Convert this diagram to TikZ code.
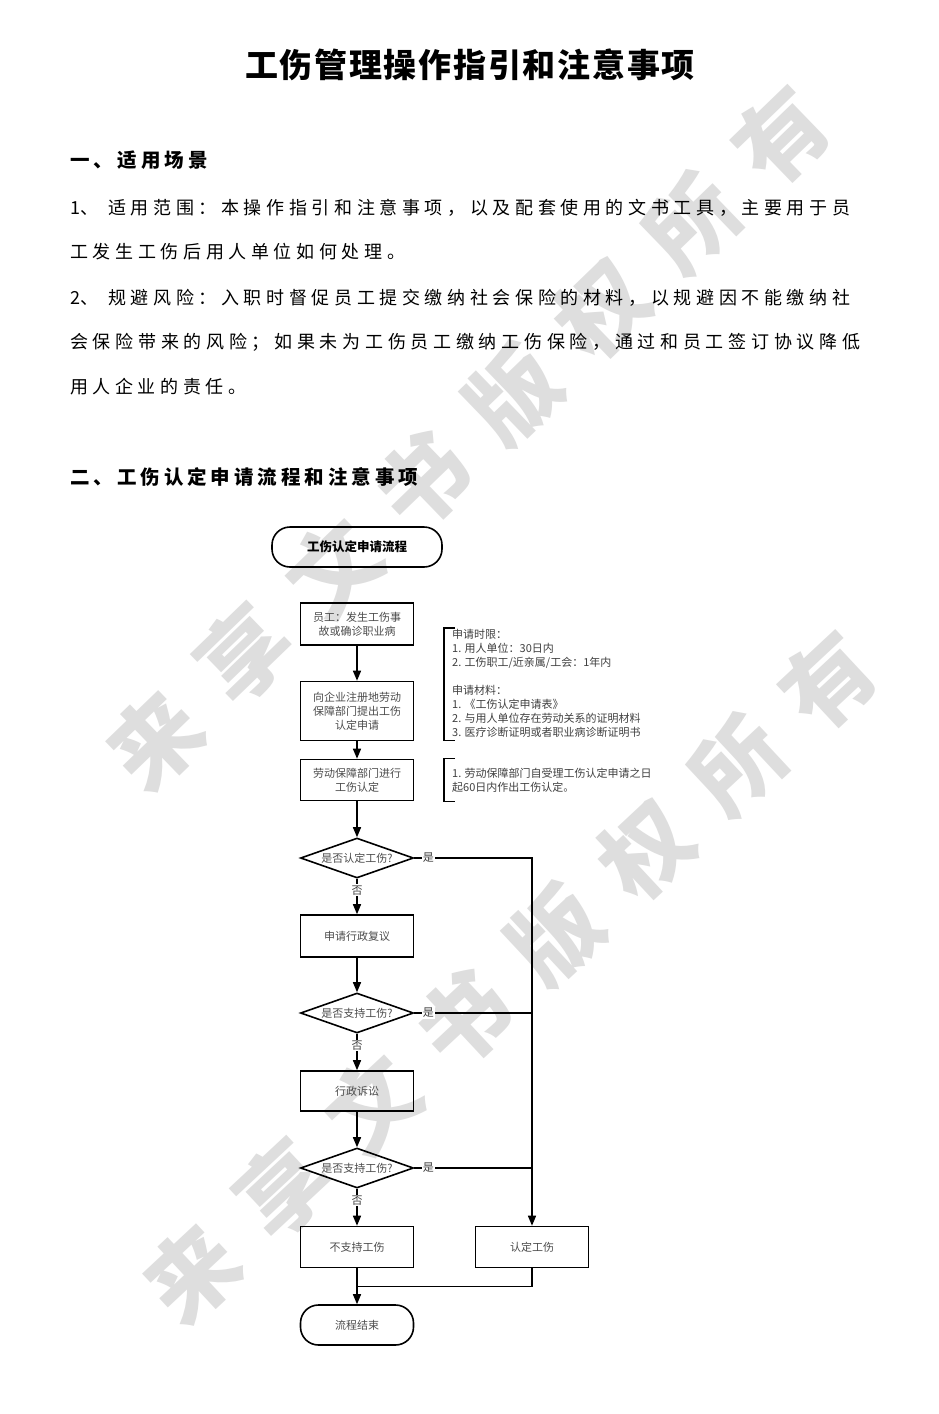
\documentclass[tikz,border=0pt]{standalone}
\usepackage{fontspec}
\setmainfont{Noto Sans CJK SC}
\usetikzlibrary{shapes.geometric, positioning, arrows.meta, calc}

% spread a line of CJK text evenly over a given width
\def\spreadfirst#1{#1\spreadrest}
\def\spreadrest#1{\ifx\relax#1\else\hskip 0pt plus 1fil #1\expandafter\spreadrest\fi}
\newcommand{\spreadline}[2]{\makebox[#1][s]{\spreadfirst#2\relax}}

\begin{document}
\begin{tikzpicture}[
        x=1pt, y=-1pt,
        >={Triangle[length=10pt,width=8pt]},
        procbox/.style={draw, line width=1.6pt, minimum width=113pt, minimum height=42pt, inner sep=2pt, align=center, text=black!70, font=\fontsize{11}{14}\selectfont},
        terminal/.style={procbox, rounded corners=18pt, minimum height=40pt},
        decision/.style={diamond, draw, line width=1.6pt, aspect=2.8, inner sep=0pt, minimum width=113pt, minimum height=40pt, text=black!70, font=\fontsize{11}{11}\selectfont},
        flow/.style={line width=1.5pt},
        lbl/.style={fill=white, inner sep=1pt, text=black!75, font=\fontsize{11}{11}\selectfont},
        note/.style={anchor=north west, inner sep=0pt, align=left, text=black!75, font=\fontsize{11}{14}\selectfont},
        bracket/.style={line width=1.5pt},
        bodyline/.style={anchor=west, inner sep=0pt, font=\fontsize{18}{22}\selectfont},
        heading/.style={anchor=west, inner sep=0pt, font=\fontsize{19.5}{22}\selectfont\bfseries},
        watermark/.style={text=black!13, inner sep=0pt, font=\fontsize{90}{90}\selectfont\bfseries}
    ]

    \fill[white] (0,0) rectangle (939,1414);
    \useasboundingbox (0,0) rectangle (939,1414);

    % --- Watermark ---
    \node[watermark, rotate=44] (wmtop) at (468,438) {\spreadline{960pt}{来享文书版权所有}};
    \node[watermark, rotate=43] (wmbottom) at (510,977) {\spreadline{960pt}{来享文书版权所有}};

    % --- Title and text ---
    \node[font=\fontsize{33}{33}\selectfont\bfseries] (title) at (470,65) {\spreadline{450pt}{工伤管理操作指引和注意事项}};

    \node[heading] (sec1) at (70,160) {\spreadline{138pt}{一、适用场景}};
    \node[bodyline] (scope1) at (70,208) {1、\hspace{10pt}\spreadline{742pt}{适用范围：本操作指引和注意事项，以及配套使用的文书工具，主要用于员}};
    \node[bodyline] (scope2) at (70,252) {\spreadline{335pt}{工发生工伤后用人单位如何处理。}};
    \node[bodyline] (risk1) at (70,298) {2、\hspace{10pt}\spreadline{742pt}{规避风险：入职时督促员工提交缴纳社会保险的材料，以规避因不能缴纳社}};
    \node[bodyline] (risk2) at (70,342) {\spreadline{790pt}{会保险带来的风险；如果未为工伤员工缴纳工伤保险，通过和员工签订协议降低}};
    \node[bodyline] (risk3) at (70,387) {\spreadline{176pt}{用人企业的责任。}};

    \node[heading] (sec2) at (70,477) {\spreadline{348pt}{二、工伤认定申请流程和注意事项}};

    % --- Flowchart ---
    \node[terminal, minimum width=170pt, text=black, font=\fontsize{12.5}{14}\selectfont\bfseries] (start) at (357,547) {工伤认定申请流程};
    \node[procbox] (accident) at (357,624) {员工：发生工伤事\\故或确诊职业病};
    \node[procbox, minimum height=59pt] (apply) at (357,711) {向企业注册地劳动\\保障部门提出工伤\\认定申请};
    \node[procbox, minimum height=41pt] (review) at (357,780) {劳动保障部门进行\\工伤认定};
    \node[decision] (isinjury) at (357,858) {是否认定工伤?};
    \node[procbox] (recon) at (357,936) {申请行政复议};
    \node[decision] (support1) at (357,1013) {是否支持工伤?};
    \node[procbox, minimum height=40pt] (lawsuit) at (357,1091) {行政诉讼};
    \node[decision] (support2) at (357,1168) {是否支持工伤?};
    \node[procbox, minimum height=41pt] (notinjury) at (357,1247) {不支持工伤};
    \node[procbox, minimum height=41pt] (injury) at (532,1247) {认定工伤};
    \node[terminal] (finish) at (357,1325) {流程结束};

    % --- Notes beside the flow ---
    \node[note] (limits) at (452,629) {申请时限：\\1. 用人单位：30日内\\2. 工伤职工/近亲属/工会：1年内\\[14pt]申请材料：\\1. 《工伤认定申请表》\\2. 与用人单位存在劳动关系的证明材料\\3. 医疗诊断证明或者职业病诊断证明书};
    \node[note, anchor=west] (deadline) at (452,780) {1. 劳动保障部门自受理工伤认定申请之日\\起60日内作出工伤认定。};

    \draw[bracket] ([xshift=3pt, yshift=1pt]limits.north west) -- ++(-11,0) |- ([xshift=3pt, yshift=-3pt]limits.south west);
    \coordinate (dtop) at (deadline.west |- review.north);
    \coordinate (dbottom) at (deadline.west |- review.south);
    \draw[bracket] ([xshift=3pt]dtop) -- ++(-11,0) |- ([xshift=3pt]dbottom);

    % --- Connectors ---
    \draw[flow,->] (accident) -- (apply);
    \draw[flow,->] (apply) -- (review);
    \draw[flow,->] (review) -- (isinjury);
    \draw[flow,->] (isinjury) -- node[lbl, pos=0.32] {否} (recon);
    \draw[flow,->] (recon) -- (support1);
    \draw[flow,->] (support1) -- node[lbl, pos=0.32] {否} (lawsuit);
    \draw[flow,->] (lawsuit) -- (support2);
    \draw[flow,->] (support2) -- node[lbl, pos=0.32] {否} (notinjury);
    \draw[flow,->] (notinjury) -- (finish);

    \draw[flow,->] (isinjury.east) -- node[lbl, pos=0.12] {是} (isinjury.east -| injury.north) -- (injury.north);
    \draw[flow] (support1.east) -- node[lbl, pos=0.12] {是} (support1.east -| injury.north);
    \draw[flow] (support2.east) -- node[lbl, pos=0.12] {是} (support2.east -| injury.north);

    \coordinate (merge) at ($(notinjury.south)!0.5!(finish.north)$);
    \draw[flow] (injury.south) |- (merge);

\end{tikzpicture}
\end{document}
